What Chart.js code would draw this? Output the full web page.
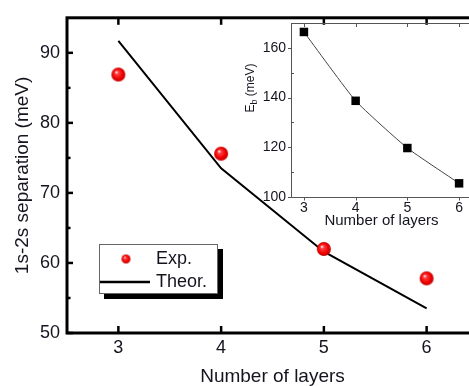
<!DOCTYPE html>
<html>
<head>
<meta charset="utf-8">
<script src="https://cdn.jsdelivr.net/npm/chart.js@4.4.1/dist/chart.umd.min.js"></script>
<style>
html, body { margin: 0; padding: 0; background: #fff; overflow: hidden; }
#wrap { position: relative; width: 469px; height: 386px; overflow: hidden; }
#main { position: absolute; left: 0; top: 0; }
#inset { position: absolute; left: 240px; top: 0; }
</style>
</head>
<body>
<div id="wrap">
  <canvas id="main" width="490" height="386"></canvas>
  <canvas id="inset" width="240" height="235"></canvas>
</div>
<script>
// main plot data
const layers = [3, 4, 5, 6];
const expSeparation = [86.9, 75.6, 62.0, 57.8];
const theorSeparation = [91.7, 73.5, 61.6, 53.5];
const mainYTicks = [50, 60, 70, 80, 90];
const mainYMinor = [55, 65, 75, 85];
const seriesNames = ['Exp.', 'Theor.'];

// inset data
const insetLayers = [3, 4, 5, 6];
const bindingEnergy = [166.4, 138.7, 119.7, 105.5];
const insetYTicks = [100, 120, 140, 160];
const insetYMinor = [110, 130, 150];

const FONT = 'Liberation Sans, Arial, sans-serif';
const TEXT = '#14141f';

// red shiny sphere used as point style
function makeSphere(r) {
    var c = document.createElement('canvas');
    c.width = c.height = 2 * r + 2;
    var g = c.getContext('2d');
    var cx = r + 1, cy = r + 1;
    var grad = g.createRadialGradient(cx - r * 0.3, cy - r * 0.35, r * 0.05, cx, cy, r);
    grad.addColorStop(0, '#fff0f0');
    grad.addColorStop(0.22, '#ff4040');
    grad.addColorStop(0.7, '#f00000');
    grad.addColorStop(1, '#c00000');
    g.fillStyle = grad;
    g.beginPath();
    g.arc(cx, cy, r, 0, Math.PI * 2);
    g.fill();
    return c;
}
const bigSphere = makeSphere(7);
const smallSphere = makeSphere(4.5);

function line(ctx, x1, y1, x2, y2) {
    ctx.beginPath();
    ctx.moveTo(x1, y1);
    ctx.lineTo(x2, y2);
    ctx.stroke();
}

// frame, inward ticks and legend of the main plot
const mainDecor = {
    id: 'mainDecor',
    afterDraw(chart) {
        const ctx = chart.ctx;
        const a = chart.chartArea;
        const xs = chart.scales.x, ys = chart.scales.y;
        ctx.save();
        ctx.strokeStyle = '#000';
        ctx.lineWidth = 3;
        ctx.strokeRect(a.left, a.top, a.right - a.left, a.bottom - a.top);
        ctx.lineWidth = 2.5;
        layers.forEach(v => {
            const px = xs.getPixelForValue(v);
            line(ctx, px, a.bottom, px, a.bottom - 7);
            line(ctx, px, a.top, px, a.top + 7);
        });
        mainYTicks.forEach(v => {
            const py = ys.getPixelForValue(v);
            line(ctx, a.left, py, a.left + 6, py);
        });
        mainYMinor.forEach(v => {
            const py = ys.getPixelForValue(v);
            line(ctx, a.left, py, a.left + 3.5, py);
        });

        // legend box with shadow
        ctx.fillStyle = '#000';
        ctx.fillRect(104, 249, 119, 50);
        ctx.fillStyle = '#fff';
        ctx.fillRect(99, 244, 119, 50);
        ctx.strokeStyle = '#666';
        ctx.lineWidth = 1;
        ctx.strokeRect(99.5, 244.5, 118, 49);
        ctx.drawImage(smallSphere, 126 - 5.5, 259 - 5.5);
        ctx.strokeStyle = '#000';
        ctx.lineWidth = 2.5;
        line(ctx, 100, 282, 150, 282);
        ctx.fillStyle = TEXT;
        ctx.font = '18px ' + FONT;
        ctx.textBaseline = 'middle';
        ctx.textAlign = 'left';
        ctx.fillText(seriesNames[0], 156, 259);
        ctx.fillText(seriesNames[1], 156, 282);
        ctx.restore();
    }
};

new Chart(document.getElementById('main').getContext('2d'), {
    type: 'scatter',
    data: {
        datasets: [{
            label: seriesNames[0],
            data: layers.map((x, i) => ({ x: x, y: expSeparation[i] })),
            pointStyle: bigSphere,
            pointRadius: 7,
            order: 1
        }, {
            label: seriesNames[1],
            type: 'line',
            data: layers.map((x, i) => ({ x: x, y: theorSeparation[i] })),
            borderColor: '#000',
            borderWidth: 2,
            pointRadius: 0,
            fill: false,
            tension: 0,
            order: 2
        }]
    },
    options: {
        responsive: false,
        animation: false,
        devicePixelRatio: 1,
        layout: { padding: { top: 15, right: 12, left: 0, bottom: 0 } },
        plugins: { legend: { display: false }, tooltip: { enabled: false } },
        scales: {
            x: {
                type: 'linear', min: 2.5, max: 6.5,
                afterBuildTicks: s => { s.ticks = layers.map(v => ({ value: v })); },
                afterFit: s => { s.height = 53; },
                grid: { display: false, drawTicks: false },
                border: { display: false },
                ticks: { font: { family: FONT, size: 18 }, color: TEXT, padding: 4 },
                title: { display: true, text: 'Number of layers', color: TEXT,
                         font: { family: FONT, size: 19, lineHeight: 1 }, padding: { top: 0, bottom: 0 } }
            },
            y: {
                type: 'linear', min: 50, max: 95,
                afterBuildTicks: s => { s.ticks = mainYTicks.map(v => ({ value: v })); },
                afterFit: s => { s.width = 67; },
                grid: { display: false, drawTicks: false },
                border: { display: false },
                ticks: { font: { family: FONT, size: 18 }, color: TEXT, padding: 7 },
                title: { display: true, text: '1s-2s separation (meV)', color: TEXT,
                         font: { family: FONT, size: 19, lineHeight: 1 }, padding: { top: 13, bottom: 0 } }
            }
        }
    },
    plugins: [mainDecor]
});

// frame, ticks and y title of the inset
const insetDecor = {
    id: 'insetDecor',
    afterDraw(chart) {
        const ctx = chart.ctx;
        const a = chart.chartArea;
        const xs = chart.scales.x, ys = chart.scales.y;
        ctx.save();
        ctx.strokeStyle = '#555';
        ctx.lineWidth = 1;
        ctx.strokeRect(a.left + 0.5, a.top + 0.5, a.right - a.left, a.bottom - a.top);
        insetLayers.forEach(v => {
            const px = Math.round(xs.getPixelForValue(v)) + 0.5;
            line(ctx, px, a.bottom, px, a.bottom + 3.5);
            line(ctx, px, a.top, px, a.top + 4);
        });
        insetYTicks.forEach(v => {
            const py = Math.round(ys.getPixelForValue(v)) + 0.5;
            line(ctx, a.left - 3, py, a.left, py);
        });
        insetYMinor.forEach(v => {
            const py = Math.round(ys.getPixelForValue(v)) + 0.5;
            line(ctx, a.left, py, a.left + 3, py);
        });

        // E_b (meV), rotated
        ctx.translate(11, 88);
        ctx.rotate(-Math.PI / 2);
        ctx.fillStyle = TEXT;
        ctx.textBaseline = 'middle';
        ctx.textAlign = 'left';
        ctx.font = '12px ' + FONT;
        const wE = ctx.measureText('E').width;
        const wRest = ctx.measureText(' (meV)').width;
        ctx.font = '9px ' + FONT;
        const wb = ctx.measureText('b').width;
        let x0 = -(wE + wb + wRest) / 2;
        ctx.font = '12px ' + FONT;
        ctx.fillText('E', x0, 0);
        ctx.font = '9px ' + FONT;
        ctx.fillText('b', x0 + wE, 4);
        ctx.font = '12px ' + FONT;
        ctx.fillText(' (meV)', x0 + wE + wb, 0);
        ctx.restore();
    }
};

new Chart(document.getElementById('inset').getContext('2d'), {
    type: 'line',
    data: {
        datasets: [{
            label: 'Eb',
            data: insetLayers.map((x, i) => ({ x: x, y: bindingEnergy[i] })),
            borderColor: '#444',
            borderWidth: 1,
            pointStyle: 'rect',
            pointRadius: 6,
            pointBackgroundColor: '#000',
            pointBorderColor: '#000',
            pointBorderWidth: 0,
            tension: 0.15,
            fill: false
        }]
    },
    options: {
        responsive: false,
        animation: false,
        devicePixelRatio: 1,
        layout: { padding: { top: 23, right: 8, left: 0, bottom: 0 } },
        plugins: { legend: { display: false }, tooltip: { enabled: false } },
        scales: {
            x: {
                type: 'linear', min: 2.75, max: 6.25,
                afterBuildTicks: s => { s.ticks = insetLayers.map(v => ({ value: v })); },
                afterFit: s => { s.height = 38; },
                grid: { display: false, drawTicks: false },
                border: { display: false },
                ticks: { font: { family: FONT, size: 14 }, color: TEXT, padding: 3 },
                title: { display: true, text: 'Number of layers', color: TEXT,
                         font: { family: FONT, size: 15, lineHeight: 1 }, padding: { top: 0, bottom: 7 } }
            },
            y: {
                type: 'linear', min: 100, max: 170,
                afterBuildTicks: s => { s.ticks = insetYTicks.map(v => ({ value: v })); },
                afterFit: s => { s.width = 51; },
                grid: { display: false, drawTicks: false },
                border: { display: false },
                ticks: { font: { family: FONT, size: 14 }, color: TEXT, padding: 5 }
            }
        }
    },
    plugins: [insetDecor]
});
</script>
</body>
</html>
